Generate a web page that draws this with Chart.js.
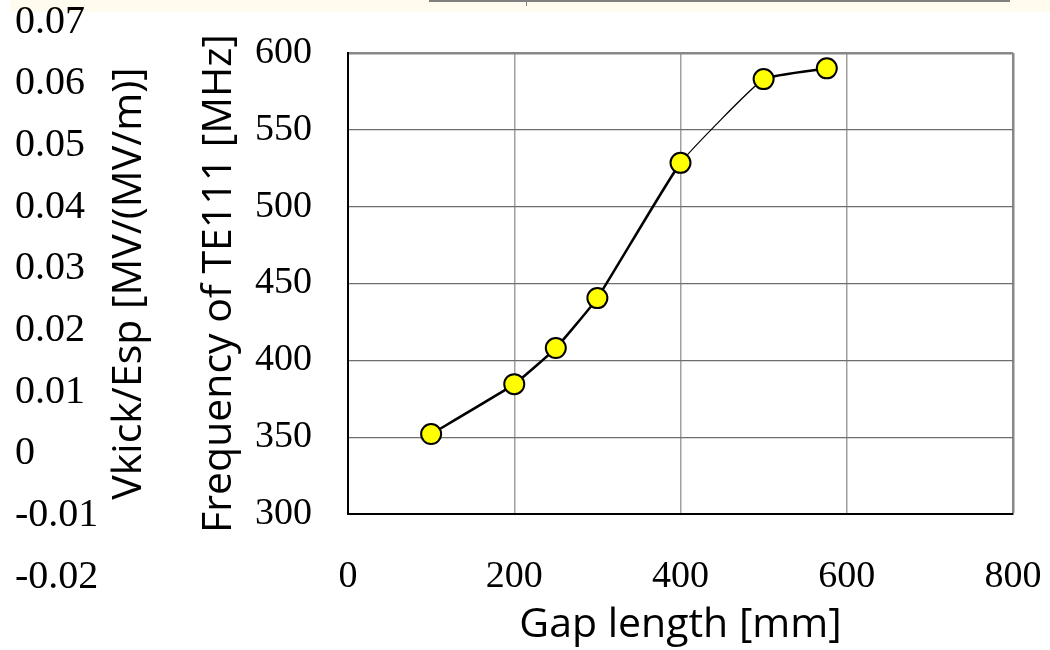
<!DOCTYPE html>
<html>
<head>
<meta charset="utf-8">
<script src="https://cdn.jsdelivr.net/npm/chart.js@4/dist/chart.umd.min.js"></script>
<style>
html, body { margin: 0; padding: 0; background: #ffffff; }
#wrap { position: relative; width: 1050px; height: 650px; overflow: hidden; }
#band { position: absolute; left: 10px; top: 0; width: 1040px; height: 12px; background: #fffbef; }
#topline { position: absolute; left: 429px; top: 0; width: 581px; height: 2px; background: #808080; }
#toptick { position: absolute; left: 526px; top: 0; width: 1px; height: 6px; background: #808080; }
canvas { position: absolute; left: 0; top: 0; }
</style>
</head>
<body>
<div id="wrap">
  <div id="band"></div>
  <div id="topline"></div>
  <div id="toptick"></div>
  <canvas id="c" width="1050" height="650"></canvas>
</div>
<script>
// ---- data ----
const gapLength = [100, 200, 250, 300, 400, 500, 576];           // mm
const frequencyTE111 = [352, 384.5, 408, 440.5, 528.5, 583, 590]; // MHz
const xTickValues = [0, 200, 400, 600, 800];
const yTickValues = [300, 350, 400, 450, 500, 550, 600];
const vkickTickValues = [-0.02, -0.01, 0, 0.01, 0.02, 0.03, 0.04, 0.05, 0.06, 0.07];

const xTitle = 'Gap length [mm]';
const yTitle = 'Frequency of TE111 [MHz]';
const vkickTitle = 'Vkick/Esp [MV/(MV/m)]';

// ---- styles ----
const serifTick = { family: "'Liberation Serif', 'DejaVu Serif', serif", size: 38 };
const serifGhost = { family: "'Liberation Serif', 'DejaVu Serif', serif", size: 40 };
const sansTitle = { family: "'Open Sans', 'Noto Sans', sans-serif", size: 41 };

const ghostAxisPlugin = {
  id: 'ghostAxis',
  afterLayout(chart) {
    const s = chart.scales.yv;
    if (!s) return;
    s.top = 22;
    s.bottom = 577;
    s.height = s.bottom - s.top;
    s.configure();
  }
};

function noEdgePadding(s) {
  s.paddingLeft = 0; s.paddingRight = 0; s.paddingTop = 0; s.paddingBottom = 0;
}

new Chart(document.getElementById('c'), {
  type: 'scatter',
  data: {
    datasets: [{
      data: gapLength.map((x, i) => ({ x: x, y: frequencyTE111[i] })),
      showLine: true,
      borderColor: '#000000',
      borderWidth: 2.5,
      tension: 0.12,
      pointRadius: 10,
      pointBackgroundColor: '#ffff00',
      pointBorderColor: '#000000',
      pointBorderWidth: 2,
      segment: { borderWidth: c => (c.p0DataIndex === 4 ? 1.2 : 2.5) },
      xAxisID: 'x',
      yAxisID: 'y'
    }]
  },
  options: {
    responsive: false,
    animation: false,
    layout: { padding: { left: 15, right: 37, top: 53, bottom: 0 } },
    plugins: { legend: { display: false }, tooltip: { enabled: false } },
    scales: {
      x: {
        type: 'linear',
        position: 'bottom',
        min: 0, max: 800,
        afterBuildTicks: s => { s.ticks = xTickValues.map(v => ({ value: v })); },
        afterFit: s => { s.height = 136; noEdgePadding(s); },
        ticks: { font: serifTick, color: '#000', padding: 40, maxRotation: 0 },
        grid: {
          drawTicks: false,
          color: c => (c.tick && c.tick.value === 800 ? '#888888' : (c.tick && c.tick.value === 0 ? '#000000' : '#a0a0a0')),
          lineWidth: c => (c.tick && c.tick.value === 800 ? 2.5 : 1.5)
        },
        border: { color: '#000000', width: 2 },
        title: { display: true, text: xTitle, font: sansTitle, color: '#000', padding: { top: 0, bottom: 0 } }
      },
      y: {
        type: 'linear',
        position: 'left',
        weight: 1,
        min: 300, max: 600,
        afterBuildTicks: s => { s.ticks = yTickValues.map(v => ({ value: v })); },
        afterFit: s => { s.width = 168; noEdgePadding(s); },
        ticks: { font: serifTick, color: '#000', padding: 36 },
        grid: {
          drawTicks: false,
          color: c => (c.tick && c.tick.value === 600 ? '#888888' : (c.tick && c.tick.value === 300 ? '#000000' : '#6e6e6e')),
          lineWidth: c => (c.tick && c.tick.value === 600 ? 2.5 : (c.tick && c.tick.value === 300 ? 2 : 1.2))
        },
        border: { color: '#000000', width: 2 },
        title: { display: true, text: yTitle, font: sansTitle, color: '#000', padding: { top: 15, bottom: 0 } }
      },
      yvt: {
        type: 'linear',
        position: 'left',
        weight: 2,
        min: -0.02, max: 0.07,
        afterFit: s => { s.width = 80; noEdgePadding(s); },
        ticks: { display: false },
        grid: { display: false },
        border: { display: false },
        title: { display: true, text: vkickTitle, font: sansTitle, color: '#000', padding: { top: 5, bottom: 0 } }
      },
      yv: {
        type: 'linear',
        position: 'left',
        weight: 3,
        min: -0.02, max: 0.07,
        afterBuildTicks: s => { s.ticks = vkickTickValues.map(v => ({ value: v })); },
        afterFit: s => { s.width = 85; noEdgePadding(s); },
        ticks: {
          autoSkip: false,
          font: serifGhost, color: '#000', crossAlign: 'far', padding: 0,
          callback: v => (v === 0 ? '0' : Number(v).toFixed(2))
        },
        grid: { display: false },
        border: { display: false },
        title: { display: false }
      }
    }
  },
  plugins: [ghostAxisPlugin]
});
</script>
</body>
</html>
